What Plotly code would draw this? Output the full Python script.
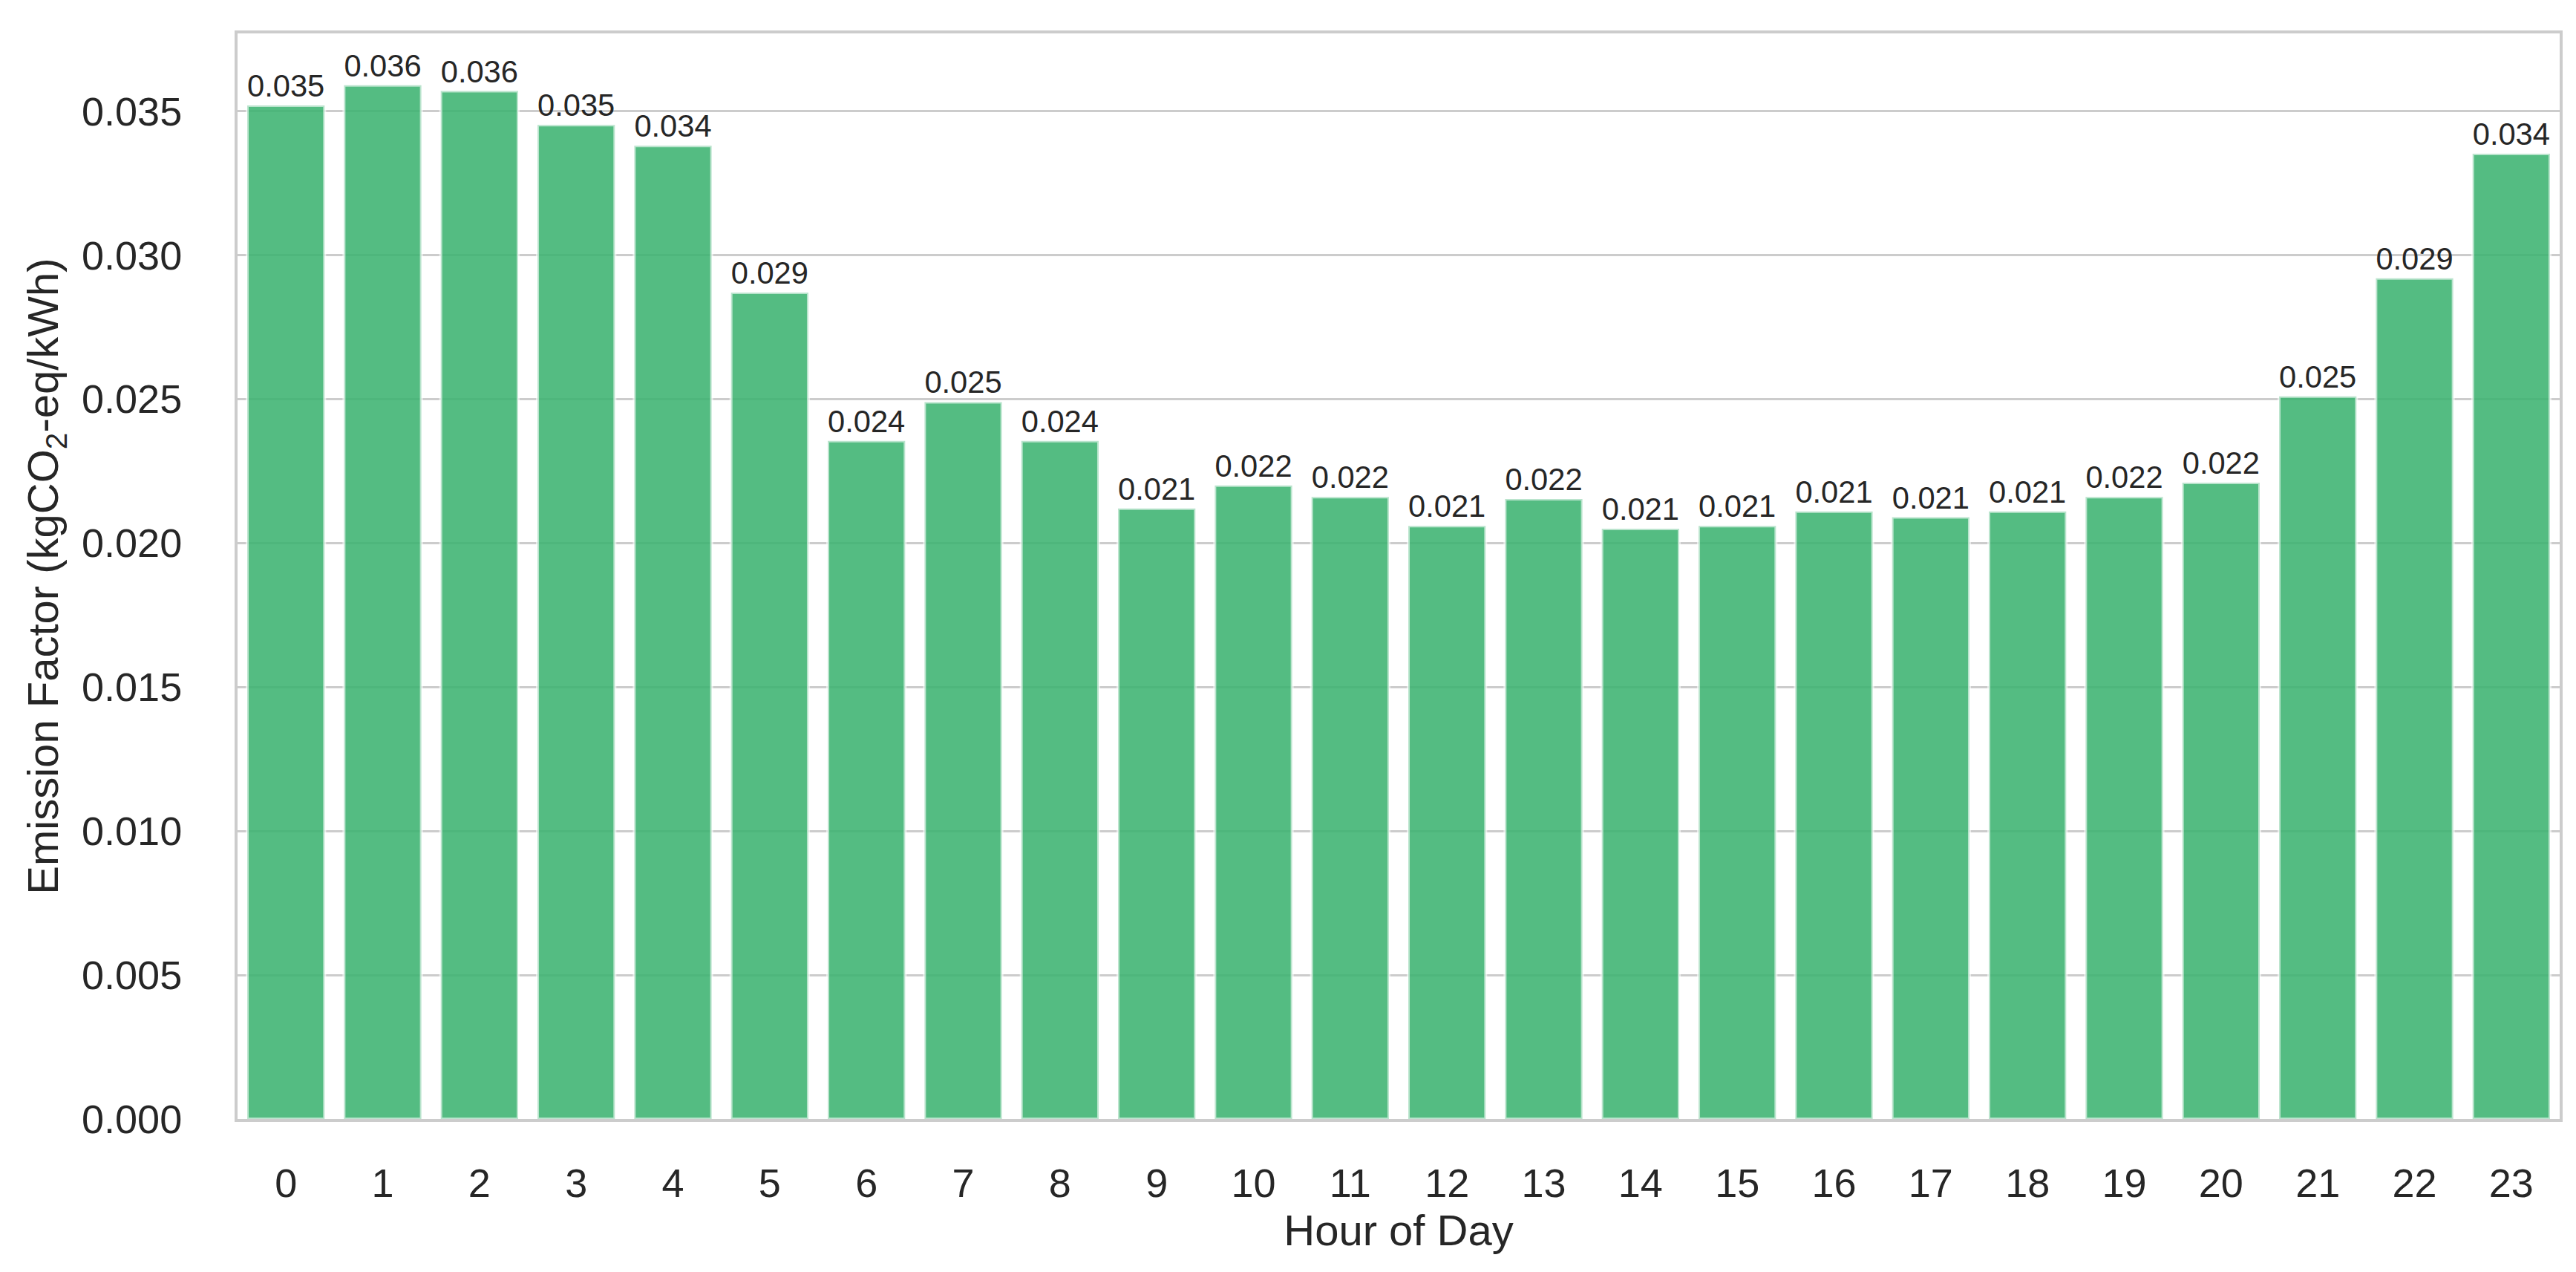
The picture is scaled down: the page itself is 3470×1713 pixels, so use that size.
import plotly.graph_objects as go

hours = list(range(24))
emission_factor = [
    0.0352, 0.0359, 0.0357, 0.03452, 0.0338, 0.0287,
    0.02355, 0.0249, 0.02355, 0.0212, 0.0220, 0.0216,
    0.0206, 0.02153, 0.0205, 0.0206, 0.0211, 0.0209,
    0.0211, 0.0216, 0.0221, 0.0251, 0.0292, 0.03352,
]
bar_labels = [f"{v:.3f}" for v in emission_factor]
y_ticks = [0.000, 0.005, 0.010, 0.015, 0.020, 0.025, 0.030, 0.035]

FONT = "Liberation Sans, Arial, sans-serif"
TXT = "#262626"
GRID = "#cccccc"

fig = go.Figure()
fig.add_trace(go.Bar(
    x=hours,
    y=emission_factor,
    text=bar_labels,
    textposition="outside",
    textfont=dict(size=42, color=TXT, family=FONT),
    cliponaxis=False,
    marker=dict(color="rgba(60,179,113,0.88)",
                line=dict(color="rgba(255,255,255,0.6)", width=4)),
    hoverinfo="x+y",
))

fig.update_layout(
    width=3470, height=1713,
    margin=dict(l=312, r=30, t=37, b=214),
    paper_bgcolor="white", plot_bgcolor="white",
    font=dict(family=FONT, color=TXT),
    bargap=0.2,
    showlegend=False,
)
fig.update_xaxes(
    range=[-0.5, 23.5],
    tickmode="array", tickvals=hours, ticktext=[str(h) for h in hours],
    showgrid=False, zeroline=False,
    showline=True, linecolor=GRID, linewidth=4, mirror=True,
    ticks="", ticklabelstandoff=36,
    tickfont=dict(size=54, color=TXT, family=FONT),
    title=dict(text="Hour of Day", font=dict(size=58, color=TXT, family=FONT), standoff=16),
)
fig.update_yaxes(
    range=[0, 0.0377],
    tickmode="array", tickvals=y_ticks, ticktext=[f"{t:.3f}" for t in y_ticks],
    showgrid=True, gridcolor=GRID, gridwidth=3,
    zeroline=False,
    showline=True, linecolor=GRID, linewidth=4, mirror=True,
    ticks="", ticklabelstandoff=60,
    tickfont=dict(size=54, color=TXT, family=FONT),
    title=dict(text="Emission Factor (kgCO<sub>2</sub>-eq/kWh)",
               font=dict(size=58, color=TXT, family=FONT), standoff=14),
)

fig.write_html("out.html")
